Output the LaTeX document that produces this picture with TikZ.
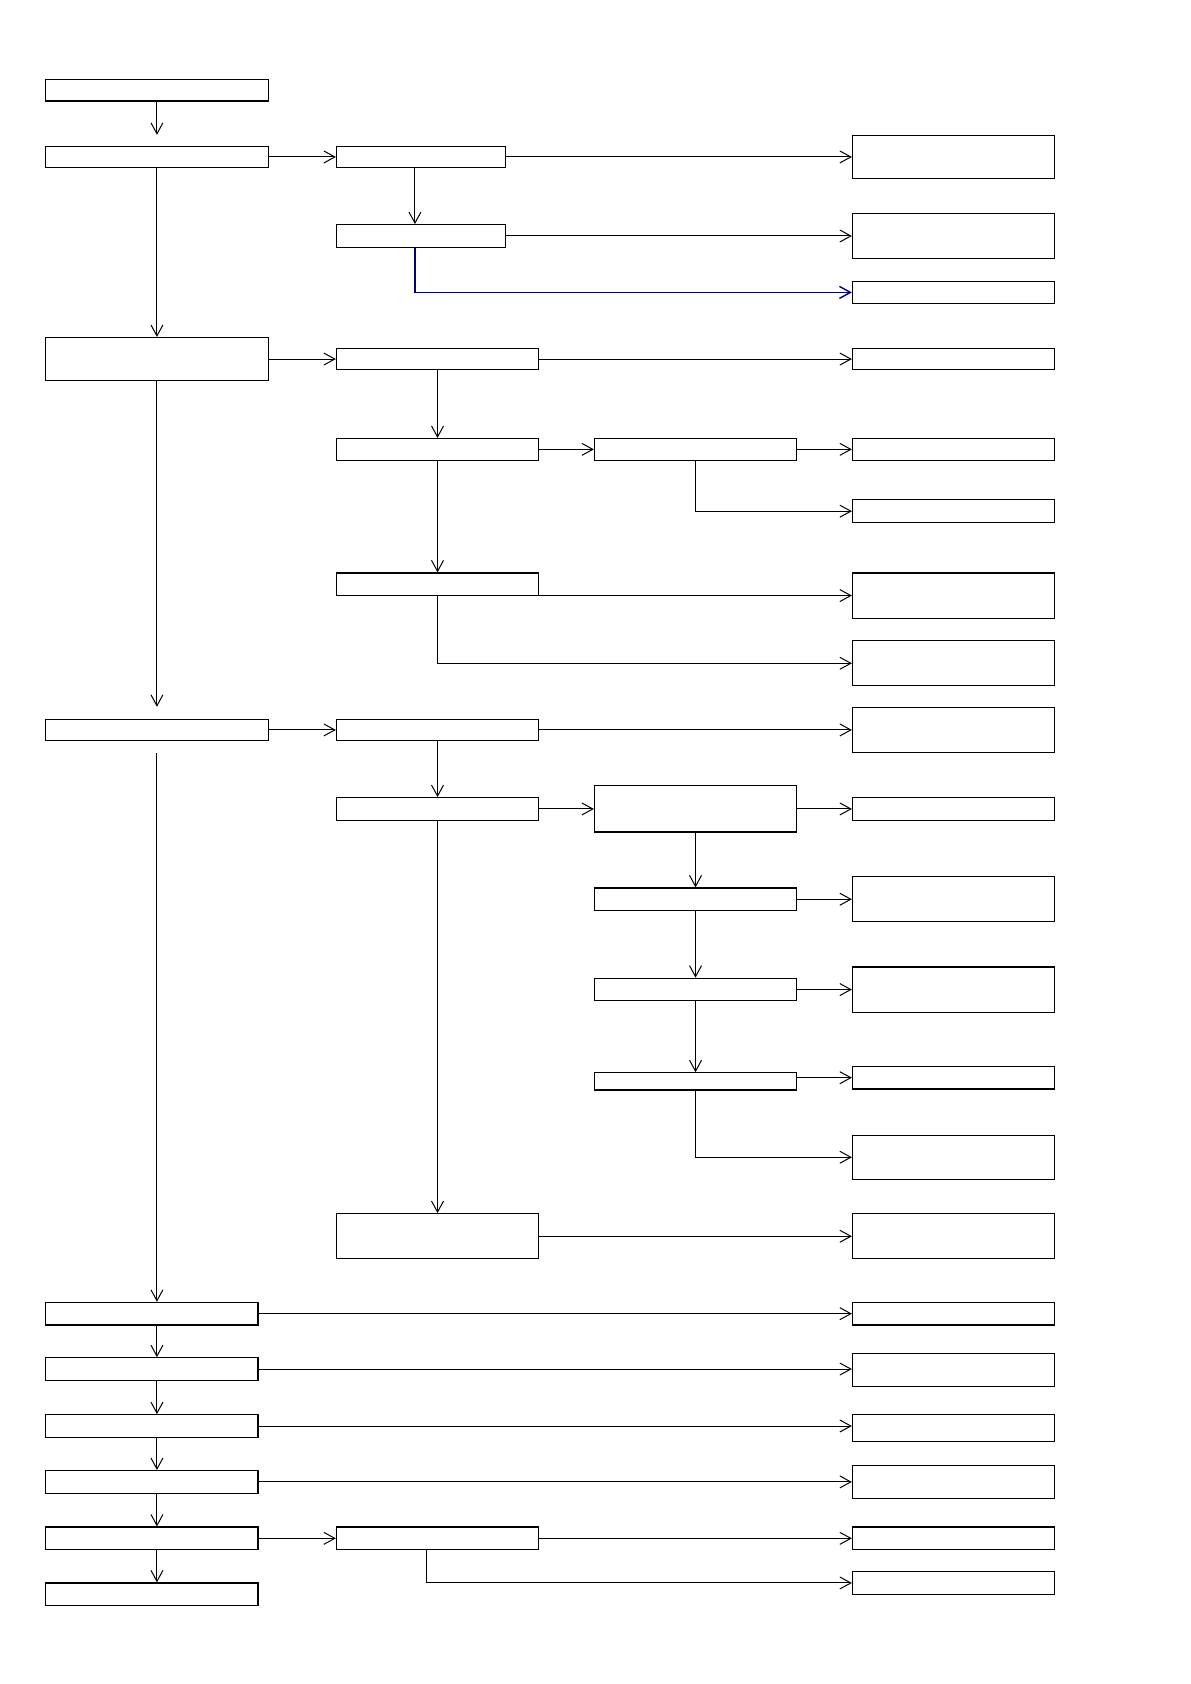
\documentclass[tikz,border=0pt]{standalone}
\usetikzlibrary{arrows.meta}
\definecolor{linkblue}{RGB}{0,0,120}
\tikzset{
  blk/.style 2 args={draw, line width=0.6pt, inner sep=0pt,
    minimum width=#1*0.5375pt, minimum height=#2*0.5375pt},
  arr/.style={-{Straight Barb[length=5.5pt,width=6pt]}, line width=0.5pt}
}
\begin{document}
\begin{tikzpicture}[x=0.5375pt, y=-0.5375pt]
  % 页面范围
  \useasboundingbox (0,0) rectangle (1107,1566.5);
  % 左侧主干
  \node[blk={208}{20}] (a1) at (146,84) {};
  \node[blk={208}{20}] (a2) at (146,146) {};
  \node[blk={208}{40}] (a3) at (146,334) {};
  \node[blk={208}{20}] (a4) at (146,679) {};
  \foreach \n/\y in {b1/1222, b2/1273.5, b3/1326.5, b4/1378.5, b5/1431, b6/1483} {
    \node[blk={198}{21}] (\n) at (141,\y) {};
  }
  % 第二列
  \node[blk={157}{20}] (c1) at (391.5,146) {};
  \node[blk={157}{21}] (c2) at (391.5,219.5) {};
  \node[blk={188}{20}] (c3) at (407,334) {};
  \node[blk={188}{20}] (c4) at (407,418) {};
  \node[blk={188}{21}] (c5) at (407,543.5) {};
  \node[blk={188}{20}] (c6) at (407,679) {};
  \node[blk={188}{21}] (c7) at (407,752.5) {};
  \node[blk={188}{42}] (c8) at (407,1150) {};
  \node[blk={188}{21}] (c9) at (407,1431) {};
  % 第三列
  \node[blk={188}{20}] (d1) at (647,418) {};
  \node[blk={188}{43}] (d2) at (647,752.5) {};
  \node[blk={188}{21}] (d3) at (647,836.5) {};
  \node[blk={188}{21}] (d4) at (647,920.5) {};
  \node[blk={188}{16}] (d5) at (647,1006) {};
  % 右侧结果框
  \foreach \n/\y/\h in {r1/146/40, r2/219.5/42, r3/272/20, r4/334/20, r5/418/20,
      r6/475.5/21, r7/554/42, r8/617/42, r9/679/42, r10/752.5/21, r11/836.5/42,
      r12/920.5/42, r13/1002.5/21, r14/1076.5/41, r15/1150/42, r16/1222/21,
      r17/1274.5/31, r18/1328.5/25, r19/1378.5/31, r20/1431/21, r21/1472.5/21} {
    \node[blk={188}{\h}] (\n) at (887,\y) {};
  }
  % 竖向分支位置
  \coordinate (spine) at (146,0);
  \coordinate (k1) at (386,0);
  \coordinate (k2) at (397,0);
  % 左侧主干箭头
  \draw[arr] (a1.south) -- ([yshift=5.4pt]a2.north);
  \draw[arr] (a2.south) -- (a3.north);
  \draw[arr] (a3.south) -- ([yshift=5.9pt]a4.north);
  \draw[arr] ([yshift=-5.9pt]a4.south) -- (b1.north -| spine);
  \foreach \p/\q in {b1/b2, b2/b3, b3/b4, b4/b5, b5/b6} {
    \draw[arr] (\p.south -| spine) -- (\q.north -| spine);
  }
  % 第一组
  \draw[arr] (a2.east) -- (c1.west);
  \draw[arr] (c1.east) -- (r1.west);
  \draw[arr] (c1.south -| k1) -- (c2.north -| k1);
  \draw[arr] (c2.east) -- (r2.west);
  \draw[arr, linkblue, line width=0.7pt] (c2.south -| k1) |- (r3.west);
  % 第二组
  \draw[arr] (a3.east) -- (c3.west);
  \draw[arr] (c3.east) -- (r4.west);
  \draw[arr] (c3.south) -- (c4.north);
  \draw[arr] (c4.east) -- (d1.west);
  \draw[arr] (d1.east) -- (r5.west);
  \draw[arr] (d1.south) |- (r6.west);
  \draw[arr] (c4.south) -- (c5.north);
  \draw[arr] (r7.west -| c5.east) -- (r7.west);
  \draw[arr] (c5.south) |- (r8.west);
  % 第三组
  \draw[arr] (a4.east) -- (c6.west);
  \draw[arr] (c6.east) -- (r9.west);
  \draw[arr] (c6.south) -- (c7.north);
  \draw[arr] (c7.east) -- (d2.west);
  \draw[arr] (d2.east) -- (r10.west);
  \draw[arr] (d2.south) -- (d3.north);
  \draw[arr] (d3.east) -- (r11.west);
  \draw[arr] (d3.south) -- (d4.north);
  \draw[arr] (d4.east) -- (r12.west);
  \draw[arr] (d4.south) -- (d5.north);
  \draw[arr] (r13.west -| d5.east) -- (r13.west);
  \draw[arr] (d5.south) |- (r14.west);
  \draw[arr] (c7.south) -- (c8.north);
  \draw[arr] (c8.east) -- (r15.west);
  % 下部各步
  \draw[arr] (b1.east) -- (b1.east -| r16.west);
  \draw[arr] (b2.east) -- (b2.east -| r17.west);
  \draw[arr] (b3.east) -- (b3.east -| r18.west);
  \draw[arr] (b4.east) -- (b4.east -| r19.west);
  \draw[arr] (b5.east) -- (c9.west);
  \draw[arr] (c9.east) -- (r20.west);
  \draw[arr] (c9.south -| k2) |- (r21.west);
\end{tikzpicture}
\end{document}
